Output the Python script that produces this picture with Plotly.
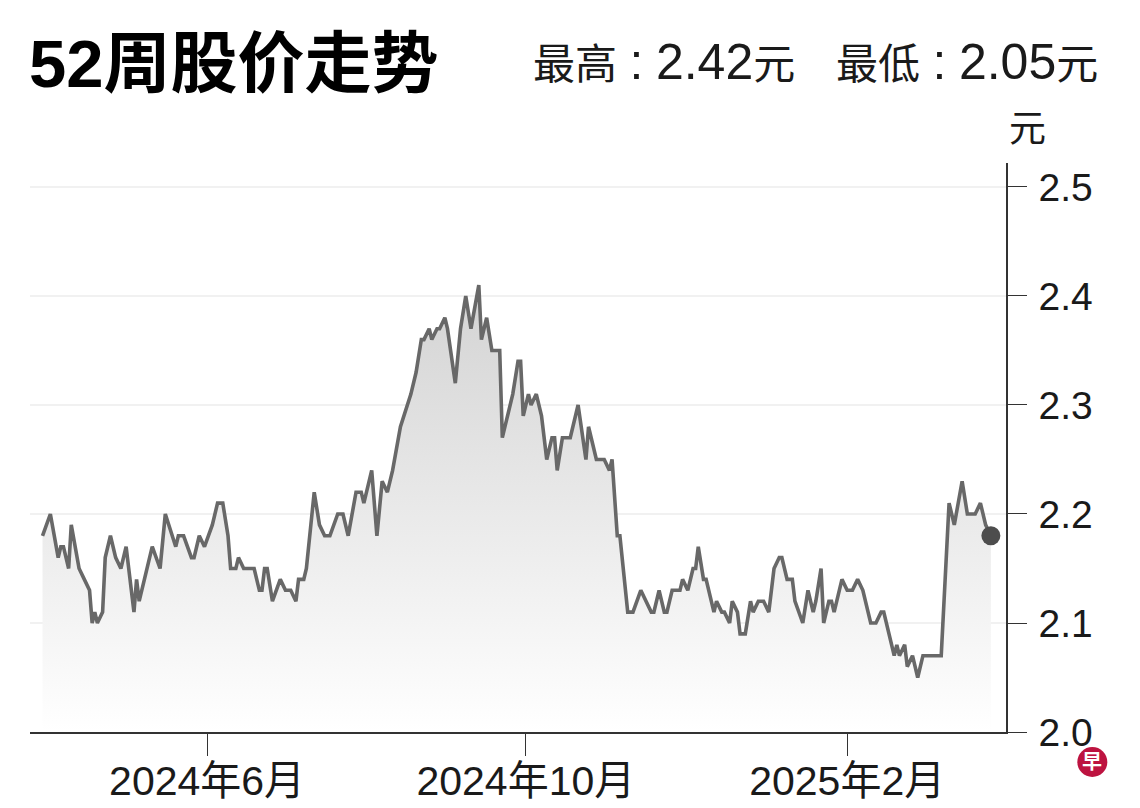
import plotly.graph_objects as go

# ---------------- data ----------------
dates = [
    "2024-03-30", "2024-04-02", "2024-04-05", "2024-04-06", "2024-04-07", "2024-04-09",
    "2024-04-10", "2024-04-13", "2024-04-15", "2024-04-17", "2024-04-18", "2024-04-19",
    "2024-04-20", "2024-04-22", "2024-04-23", "2024-04-25", "2024-04-27", "2024-04-29",
    "2024-05-01", "2024-05-04", "2024-05-05", "2024-05-06", "2024-05-08", "2024-05-11",
    "2024-05-14", "2024-05-16", "2024-05-20", "2024-05-21", "2024-05-23", "2024-05-26",
    "2024-05-27", "2024-05-29", "2024-05-31", "2024-06-03", "2024-06-05", "2024-06-07",
    "2024-06-09", "2024-06-10", "2024-06-12", "2024-06-13", "2024-06-15", "2024-06-19",
    "2024-06-21", "2024-06-22", "2024-06-23", "2024-06-24", "2024-06-26", "2024-06-29",
    "2024-07-01", "2024-07-03", "2024-07-05", "2024-07-06", "2024-07-08", "2024-07-09",
    "2024-07-12", "2024-07-14", "2024-07-16", "2024-07-18", "2024-07-21", "2024-07-23",
    "2024-07-25", "2024-07-28", "2024-07-30", "2024-07-31", "2024-08-03", "2024-08-05",
    "2024-08-07", "2024-08-09", "2024-08-11", "2024-08-14", "2024-08-18", "2024-08-20",
    "2024-08-22", "2024-08-23", "2024-08-25", "2024-08-26", "2024-08-28", "2024-08-29",
    "2024-08-31", "2024-09-01", "2024-09-04", "2024-09-06", "2024-09-08", "2024-09-10",
    "2024-09-13", "2024-09-14", "2024-09-16", "2024-09-18", "2024-09-19", "2024-09-21",
    "2024-09-22", "2024-09-24", "2024-09-26", "2024-09-28", "2024-09-29", "2024-09-30",
    "2024-10-02", "2024-10-03", "2024-10-05", "2024-10-07", "2024-10-09", "2024-10-11",
    "2024-10-12", "2024-10-13", "2024-10-15", "2024-10-18", "2024-10-21", "2024-10-24",
    "2024-10-25", "2024-10-28", "2024-10-31", "2024-11-02", "2024-11-03", "2024-11-05",
    "2024-11-06", "2024-11-09", "2024-11-11", "2024-11-14", "2024-11-18", "2024-11-19",
    "2024-11-21", "2024-11-23", "2024-11-24", "2024-11-26", "2024-11-29", "2024-11-30",
    "2024-12-02", "2024-12-04", "2024-12-05", "2024-12-06", "2024-12-08", "2024-12-09",
    "2024-12-12", "2024-12-13", "2024-12-15", "2024-12-16", "2024-12-18", "2024-12-19",
    "2024-12-21", "2024-12-22", "2024-12-24", "2024-12-26", "2024-12-27", "2024-12-29",
    "2024-12-31", "2025-01-02", "2025-01-04", "2025-01-06", "2025-01-07", "2025-01-09",
    "2025-01-11", "2025-01-12", "2025-01-15", "2025-01-17", "2025-01-19", "2025-01-20",
    "2025-01-22", "2025-01-23", "2025-01-25", "2025-01-26", "2025-01-27", "2025-01-30",
    "2025-02-01", "2025-02-03", "2025-02-05", "2025-02-07", "2025-02-10", "2025-02-12",
    "2025-02-14", "2025-02-15", "2025-02-19", "2025-02-20", "2025-02-21", "2025-02-23",
    "2025-02-24", "2025-02-26", "2025-02-28", "2025-03-02", "2025-03-09", "2025-03-12",
    "2025-03-14", "2025-03-17", "2025-03-19", "2025-03-22", "2025-03-24", "2025-03-26",
    "2025-03-28",
]
prices = [
    2.18, 2.20, 2.16, 2.17, 2.17, 2.15,
    2.19, 2.15, 2.14, 2.13, 2.10, 2.11,
    2.10, 2.11, 2.16, 2.18, 2.16, 2.15,
    2.17, 2.11, 2.14, 2.12, 2.14, 2.17,
    2.15, 2.20, 2.17, 2.18, 2.18, 2.16,
    2.16, 2.18, 2.17, 2.19, 2.21, 2.21,
    2.18, 2.15, 2.15, 2.16, 2.15, 2.15,
    2.13, 2.13, 2.15, 2.15, 2.12, 2.14,
    2.13, 2.13, 2.12, 2.14, 2.14, 2.15,
    2.22, 2.19, 2.18, 2.18, 2.20, 2.20,
    2.18, 2.22, 2.22, 2.21, 2.24, 2.18,
    2.23, 2.22, 2.24, 2.28, 2.31, 2.33,
    2.36, 2.36, 2.37, 2.36, 2.37, 2.37,
    2.38, 2.37, 2.32, 2.37, 2.40, 2.37,
    2.41, 2.36, 2.38, 2.35, 2.35, 2.35,
    2.27, 2.29, 2.31, 2.34, 2.34, 2.29,
    2.31, 2.30, 2.31, 2.29, 2.25, 2.27,
    2.27, 2.24, 2.27, 2.27, 2.30, 2.25,
    2.28, 2.25, 2.25, 2.24, 2.25, 2.18,
    2.18, 2.11, 2.11, 2.13, 2.11, 2.11,
    2.13, 2.11, 2.11, 2.13, 2.13, 2.14,
    2.13, 2.15, 2.15, 2.17, 2.14, 2.14,
    2.11, 2.12, 2.11, 2.11, 2.10, 2.12,
    2.11, 2.09, 2.09, 2.12, 2.11, 2.12,
    2.12, 2.11, 2.15, 2.16, 2.16, 2.14,
    2.14, 2.12, 2.10, 2.13, 2.11, 2.12,
    2.15, 2.10, 2.12, 2.12, 2.11, 2.14,
    2.13, 2.13, 2.14, 2.13, 2.10, 2.10,
    2.11, 2.11, 2.07, 2.08, 2.07, 2.08,
    2.06, 2.07, 2.05, 2.07, 2.07, 2.21,
    2.19, 2.23, 2.20, 2.20, 2.21, 2.19,
    2.18,
]

y_ticks = [2.0, 2.1, 2.2, 2.3, 2.4, 2.5]
y_tick_labels = ["2.0", "2.1", "2.2", "2.3", "2.4", "2.5"]
x_ticks = ["2024-06-01", "2024-10-01", "2025-02-01"]
x_tick_labels = ["2024年6月", "2024年10月", "2025年2月"]

title_text = "52周股价走势"
high_label, high_value = "最高", "2.42"
low_label, low_value = "最低", "2.05"
currency = "元"
unit_text = "元"
logo_text = "早"

FONT = "Arial, 'Liberation Sans', 'Noto Sans CJK SC', sans-serif"
INK = "#1a1a1a"

fig = go.Figure()

fig.add_trace(go.Scatter(
    x=dates, y=prices, mode="lines",
    line=dict(color="#686868", width=3.6),
    fill="tozeroy",
    fillgradient=dict(type="vertical", start=2.0, stop=2.42,
                      colorscale=[[0, "rgba(255,255,255,1)"], [1, "rgb(210,210,210)"]]),
    hoverinfo="skip", showlegend=False,
))

fig.add_trace(go.Scatter(
    x=[dates[-1]], y=[prices[-1]], mode="markers",
    marker=dict(size=19, color="#4d4d4d"),
    hoverinfo="skip", showlegend=False,
))

# the page body has an 8px margin, so the figure is 8px smaller than the window
fig.update_layout(
    width=1132, height=800,
    margin=dict(l=22, r=134.3, t=155, b=76),
    paper_bgcolor="white", plot_bgcolor="white",
    font=dict(family=FONT, color=INK),
    showlegend=False,
    xaxis=dict(
        type="date", automargin=False,
        range=["2024-03-25 05:00", "2025-04-02 19:00"],
        showgrid=False, zeroline=False,
        showline=True, linecolor="#333333", linewidth=1.5,
        ticks="outside", ticklen=22, tickwidth=1.3, tickcolor="#333333",
        tickvals=x_ticks, ticktext=x_tick_labels,
        ticklabelstandoff=-10,
        tickfont=dict(size=41, color=INK, family=FONT),
    ),
    yaxis=dict(
        side="right", automargin=False,
        range=[2.0, 2.522],
        showgrid=True, gridcolor="#f1f1f1", gridwidth=1.5,
        zeroline=False,
        showline=True, linecolor="#333333", linewidth=1.5,
        ticks="outside", ticklen=19, tickwidth=1.3, tickcolor="#333333",
        tickvals=y_ticks, ticktext=y_tick_labels,
        ticklabelstandoff=4,
        tickfont=dict(size=39, color=INK, family=FONT),
    ),
)

# helpers: page pixel position -> paper coordinates of the plot area
def px(xp):
    return (xp - 30) / 975.7

def py(yp):
    return (732 - yp) / 569

def stat_text(label, value):
    cjk = '<span style="font-size:42px">{}</span>'
    return cjk.format(label) + "\u2005:\u2005" + value + cjk.format(currency)

fig.add_annotation(text=f"<b>{title_text}</b>", xref="paper", yref="paper",
                   x=px(27), y=py(63.5), xanchor="left", yanchor="middle",
                   showarrow=False, font=dict(size=67, color="#000000", family=FONT))
fig.add_annotation(text=stat_text(high_label, high_value), xref="paper", yref="paper",
                   x=px(531), y=py(62), xanchor="left", yanchor="middle",
                   showarrow=False, font=dict(size=50, color=INK, family=FONT))
fig.add_annotation(text=stat_text(low_label, low_value), xref="paper", yref="paper",
                   x=px(834), y=py(62), xanchor="left", yanchor="middle",
                   showarrow=False, font=dict(size=50, color=INK, family=FONT))
fig.add_annotation(text=unit_text, xref="paper", yref="paper",
                   x=px(1027), y=py(129), xanchor="center", yanchor="middle",
                   showarrow=False, font=dict(size=37, color=INK, family=FONT))

fig.add_shape(type="circle", xref="paper", yref="paper",
              x0=px(1077), x1=px(1107), y0=py(777), y1=py(747),
              fillcolor="#bd1340", line=dict(width=0))
fig.add_annotation(text=f"<b>{logo_text}</b>", xref="paper", yref="paper",
                   x=px(1092), y=py(762), xanchor="center", yanchor="middle",
                   showarrow=False, font=dict(size=20, color="white", family=FONT))

fig.write_html("out.html")
